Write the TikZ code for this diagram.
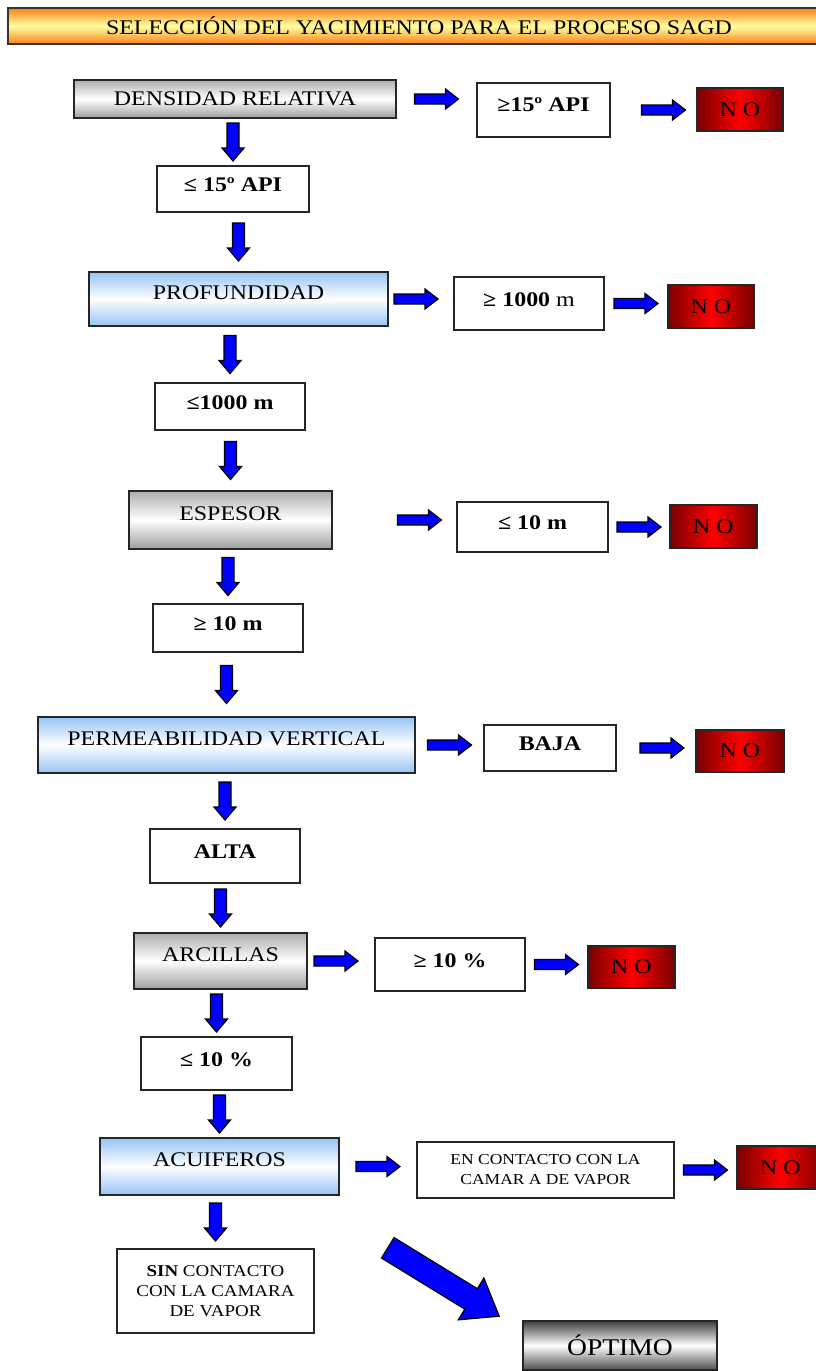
\documentclass[tikz,border=0pt]{standalone}
\usepackage{fontspec}
\setmainfont{Liberation Serif}[FakeStretch=1.15]
\usepackage{tikz}
\usetikzlibrary{calc}

\definecolor{arrblue}{RGB}{0,0,255}
\definecolor{skyb}{RGB}{150,196,245}
\definecolor{darkred}{RGB}{120,0,0}
\definecolor{ttlorange}{RGB}{255,128,20}
\definecolor{ttlyellow}{RGB}{255,255,160}

\newcommand{\boxfont}{\fontsize{20.8}{24}\selectfont}
\newcommand{\notefont}{\fontsize{15.2}{20}\selectfont}
\newcommand{\sinfont}{\fontsize{16.5}{20}\selectfont}
\newcommand{\optfont}{\fontsize{24}{28}\selectfont}

% block arrows between two boxes
\newcommand{\harrow}[3][0]{%
  \coordinate (hm) at ($(#2.east)!0.5!(#2.east -| #3.west)$);
  \draw[blk] ($(hm)+(#1-22,-5)$) -- ++(31,0) -- ++(0,-5) -- ++(13,10) -- ++(-13,10) -- ++(0,-5) -- ++(-31,0) -- cycle;}
\newcommand{\varrow}[2]{%
  \coordinate (vm) at ($(#1.south -| #2.north)!0.5!(#2.north)$);
  \draw[blk] ($(vm)+(-6,-19)$) -- ++(12,0) -- ++(0,25) -- ++(5,0) -- ++(-11,13) -- ++(-11,-13) -- ++(5,0) -- cycle;}

\begin{document}
\begin{tikzpicture}[x=1pt,y=-1pt,
  box/.style={draw=black!85,line width=1.6pt,fill=white,font=\boxfont,inner sep=2pt,text depth=8pt},
  note/.style={draw=black!85,line width=1.6pt,fill=white,align=center,inner sep=2pt},
  grayhdr/.style={draw=black!85,line width=1.6pt,top color=black!32,bottom color=black!38,middle color=white,font=\boxfont,text depth=13pt},
  bluehdr/.style={draw=black!85,line width=1.6pt,top color=skyb,bottom color=skyb,middle color=white,font=\boxfont,text depth=13pt},
  nobox/.style={draw=black!85,line width=1.6pt,left color=darkred,right color=darkred,middle color=red,font=\boxfont},
  blk/.style={fill=arrblue,draw=black,line width=1.2pt,line join=miter}]
  \useasboundingbox (0,0) rectangle (816,1371);

  \node[draw=black!80,line width=1.6pt,top color=ttlorange,bottom color=ttlorange,middle color=ttlyellow,font=\boxfont,minimum width=822,minimum height=36] (title) at (419,26) {SELECCIÓN DEL YACIMIENTO PARA EL PROCESO SAGD};

  \node[grayhdr,text depth=0pt,minimum width=322,minimum height=38] (dens) at (235,99) {DENSIDAD RELATIVA};
  \node[box,text depth=10pt,minimum width=133,minimum height=54] (api1) at (543.5,110) {\textbf{≥15º API}};
  \node[nobox,minimum width=86,minimum height=43] (no1) at (740,109.5) {N O};
  \node[box,minimum width=152,minimum height=46] (api2) at (233,189) {\textbf{≤ 15º API}};

  \node[bluehdr,minimum width=299,minimum height=54] (prof) at (238.5,299) {PROFUNDIDAD};
  \node[box,minimum width=150,minimum height=53] (m1) at (529,303.5) {\textbf{≥ 1000} m};
  \node[nobox,minimum width=86,minimum height=43] (no2) at (711,306.5) {N O};
  \node[box,minimum width=150,minimum height=47] (m2) at (230,406.5) {\textbf{≤1000 m}};

  \node[grayhdr,minimum width=203,minimum height=58] (esp) at (230.5,520) {ESPESOR};
  \node[box,minimum width=151,minimum height=50] (e1) at (532.5,527) {\textbf{≤ 10 m}};
  \node[nobox,minimum width=87,minimum height=43] (no3) at (713.5,526.5) {N O};
  \node[box,minimum width=150,minimum height=48] (e2) at (228,628) {\textbf{≥ 10 m}};

  \node[bluehdr,minimum width=377,minimum height=56] (perm) at (226.5,745) {PERMEABILIDAD VERTICAL};
  \node[box,minimum width=132,minimum height=46] (baja) at (550,748) {\textbf{BAJA}};
  \node[nobox,minimum width=88,minimum height=42] (no4) at (740,751) {N O};
  \node[box,minimum width=150,minimum height=54] (alta) at (225,856) {\textbf{ALTA}};

  \node[grayhdr,minimum width=173,minimum height=56] (arc) at (220.5,961) {ARCILLAS};
  \node[box,minimum width=150,minimum height=53] (c1) at (450,964.5) {\textbf{≥ 10 \%}};
  \node[nobox,minimum width=87,minimum height=42] (no5) at (631.5,967) {N O};
  \node[box,minimum width=151,minimum height=53] (c2) at (216.5,1063.5) {\textbf{≤ 10 \%}};

  \node[bluehdr,minimum width=239,minimum height=57] (acu) at (219.5,1166.5) {ACUIFEROS};
  \node[note,font=\notefont,minimum width=257,minimum height=56] (con) at (545.5,1170) {EN CONTACTO CON LA\\CAMAR A DE VAPOR};
  \node[nobox,minimum width=87,minimum height=43] (no6) at (780.5,1167.5) {N O};
  \node[note,font=\sinfont,minimum width=197,minimum height=84] (sin) at (215.5,1291) {\textbf{SIN} CONTACTO\\CON LA CAMARA\\DE VAPOR};

  \node[draw=black!85,line width=1.6pt,top color=black!75,bottom color=black!70,middle color=white,font=\optfont,minimum width=194,minimum height=49] (opt) at (620,1345.5) {ÓPTIMO};

  \harrow{dens}{api1}
  \harrow[10]{api1}{no1}
  \harrow[-5]{prof}{m1}
  \harrow{m1}{no2}
  \harrow[25]{esp}{e1}
  \harrow{e1}{no3}
  \harrow{perm}{baja}
  \harrow[6]{baja}{no4}
  \harrow[-5]{arc}{c1}
  \harrow{c1}{no5}
  \harrow{acu}{con}
  \harrow{con}{no6}

  \varrow{dens}{api2}
  \varrow{api2}{prof}
  \varrow{prof}{m2}
  \varrow{m2}{esp}
  \varrow{esp}{e2}
  \varrow{e2}{perm}
  \varrow{perm}{alta}
  \varrow{alta}{arc}
  \varrow{arc}{c2}
  \varrow{c2}{acu}
  \varrow{acu}{sin}

  \coordinate (tail) at ($(acu.south east)+(48,52)$);
  \coordinate (tip) at ($(opt.north west)+(-23,-4)$);
  \coordinate (neck) at ($(tip)!33pt!(tail)$);
  \draw[blk] ($(tail)!12pt!90:(tip)$) -- ($(neck)!12pt!90:(tip)$) -- ($(neck)!24.5pt!90:(tip)$) -- (tip) -- ($(neck)!24.5pt!-90:(tip)$) -- ($(neck)!12pt!-90:(tip)$) -- ($(tail)!12pt!-90:(tip)$) -- cycle;
\end{tikzpicture}
\end{document}
